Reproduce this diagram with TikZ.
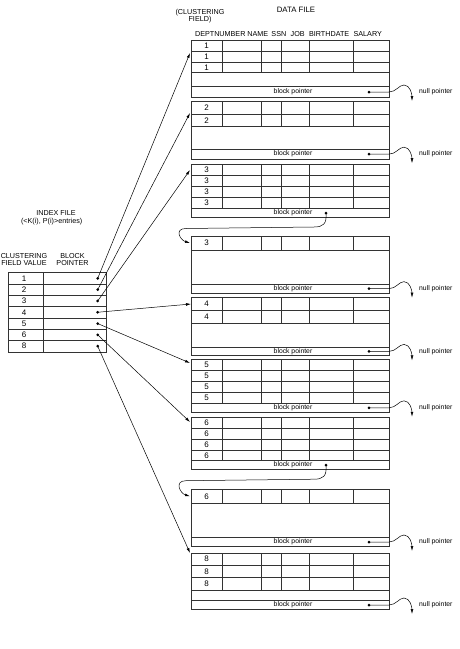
\documentclass[tikz,border=0pt]{standalone}
\usepackage{fontspec}
\setmainfont{Liberation Sans}
\usetikzlibrary{arrows.meta,calc}
\tikzset{
  tbl/.style={draw=black!80, line width=0.5pt},
  lbl/.style={inner sep=0pt, font=\fontsize{7.2}{7.4}\selectfont, align=center},
  dig/.style={inner sep=0pt, font=\fontsize{8}{8}\selectfont},
  bptext/.style={inner sep=0pt, font=\fontsize{6.8}{7}\selectfont},
  nptext/.style={inner sep=0pt, font=\fontsize{6.8}{7}\selectfont, anchor=west},
  dotn/.style={circle, fill=black, inner sep=0pt, minimum size=3pt},
  ptr/.style={line width=0.5pt, -{Latex[length=5pt,width=2.8pt]}},
}
\newcommand\dblock[8]{%
  \pgfmathsetmacro\dbBot{#2+#3*#4}%
  \draw[tbl] (191,#2) rectangle (389,#6);
  \foreach \i in {1,...,#3} {
    \draw[tbl] (191,{#2+\i*#4}) -- (389,{#2+\i*#4});
    \node[dig] (#1r\i) at (206.5,{#2+(\i-0.5)*#4}) {#7};
  }
  \draw[tbl] (191,#5) -- (389,#5);
  \foreach \x in {222.3,261.7,281.7,309.3,353.3} \draw[tbl] (\x,#2) -- (\x,\dbBot);
  \node[bptext] (#1bp) at (293,{(#5+#6)/2}) {block pointer};
  \node[dotn] (#1d) at (#8,{(#5+#6)/2}) {};
}
\newcommand\nullptr[1]{%
  \coordinate (#1e) at (#1d -| 389,0);
  \draw[ptr] (#1d.center) -- (#1e) .. controls +(7,0) and +(-5,0) .. ++(15,-7)
     .. controls +(6,0) and +(0,-7) .. ++(8,16);
  \node[nptext] (#1n) at ([xshift=30pt]#1e) {null pointer};
}
\begin{document}
\begin{tikzpicture}[x=1pt,y=-1pt]
\useasboundingbox (0,0) rectangle (460,649);

% titles
\node[lbl, font=\fontsize{7.8}{8}\selectfont] (dft) at (296,10) {DATA FILE};
\node[lbl, font=\fontsize{7.2}{6.8}\selectfont] (cf) at (200,16) {(CLUSTERING\\FIELD)};
\node[lbl] (hdr) at (288.5,34) {DEPTNUMBER NAME\, SSN\,\, JOB\,\, BIRTHDATE\,\, SALARY};

% data blocks
\dblock{b1}{40.3}{3}{10.8}{86.7}{97.3}{1}{369}
\dblock{b2}{101.7}{2}{12.5}{149.3}{159}{2}{369}
\dblock{b3}{164}{4}{11.1}{208.3}{217.7}{3}{326}
\dblock{b3x}{236}{1}{14}{284.3}{293}{3}{369}
\dblock{b4}{297.5}{2}{13}{347.3}{355.5}{4}{369}
\dblock{b5}{359.3}{4}{11}{403.3}{412.3}{5}{369}
\dblock{b6}{417.7}{4}{10.75}{460.7}{469.7}{6}{326}
\dblock{b6x}{489.3}{1}{14}{537.7}{546.3}{6}{369}
\dblock{b8}{553}{3}{12.3}{600.7}{609.3}{8}{369}

% null pointers
\nullptr{b1}
\nullptr{b2}
\nullptr{b3x}
\nullptr{b4}
\nullptr{b5}
\nullptr{b6x}
\nullptr{b8}

% chain links
\coordinate (b3xt) at (190,243);
\coordinate (b6xt) at (190,496.3);
\draw[ptr] (b3d.center) .. controls +(1,11) and +(9,0) .. ++(-12,14) -- ++(-128,1.5)
   .. controls +(-12,0) and +(-10,-3) .. (b3xt);
\draw[ptr] (b6d.center) .. controls +(1,11) and +(9,0) .. ++(-12,14) -- ++(-128,1.5)
   .. controls +(-12,0) and +(-10,-3) .. (b6xt);

% index file
\node[lbl] (ift) at (56,213.3) {INDEX FILE};
\node[lbl] (ifs) at (51.7,221.7) {(<K(i), P(i)>entries)};
\node[lbl, font=\fontsize{7.2}{6.9}\selectfont] (cfv) at (24,259.5) {CLUSTERING\\FIELD VALUE};
\node[lbl, font=\fontsize{7.2}{6.9}\selectfont] (bph) at (72.5,259.5) {BLOCK\\POINTER};
\draw[tbl] (8,272.7) rectangle (106.7,351.8);
\draw[tbl] (43.3,272.7) -- (43.3,351.8);
\foreach \v [count=\k] in {1,2,3,4,5,6,8} {
  \draw[tbl] (8,{272.7+\k*11.3}) -- (106.7,{272.7+\k*11.3});
  \node[dig] (iv\v) at (24,{272.7+(\k-0.5)*11.3}) {\v};
  \node[dotn] (i\v) at (97.7,{272.7+(\k-0.5)*11.3}) {};
}

% index pointers
\coordinate (t1) at (190,53);
\coordinate (t2) at (190,113);
\coordinate (t3) at (190,170);
\coordinate (t4) at (191,304);
\coordinate (t5) at (190,363);
\coordinate (t6) at (190,422);
\coordinate (t8) at (190,553);
\foreach \v in {1,2,3,4,5,6,8} \draw[ptr] (i\v.center) -- (t\v);
\end{tikzpicture}
\end{document}
